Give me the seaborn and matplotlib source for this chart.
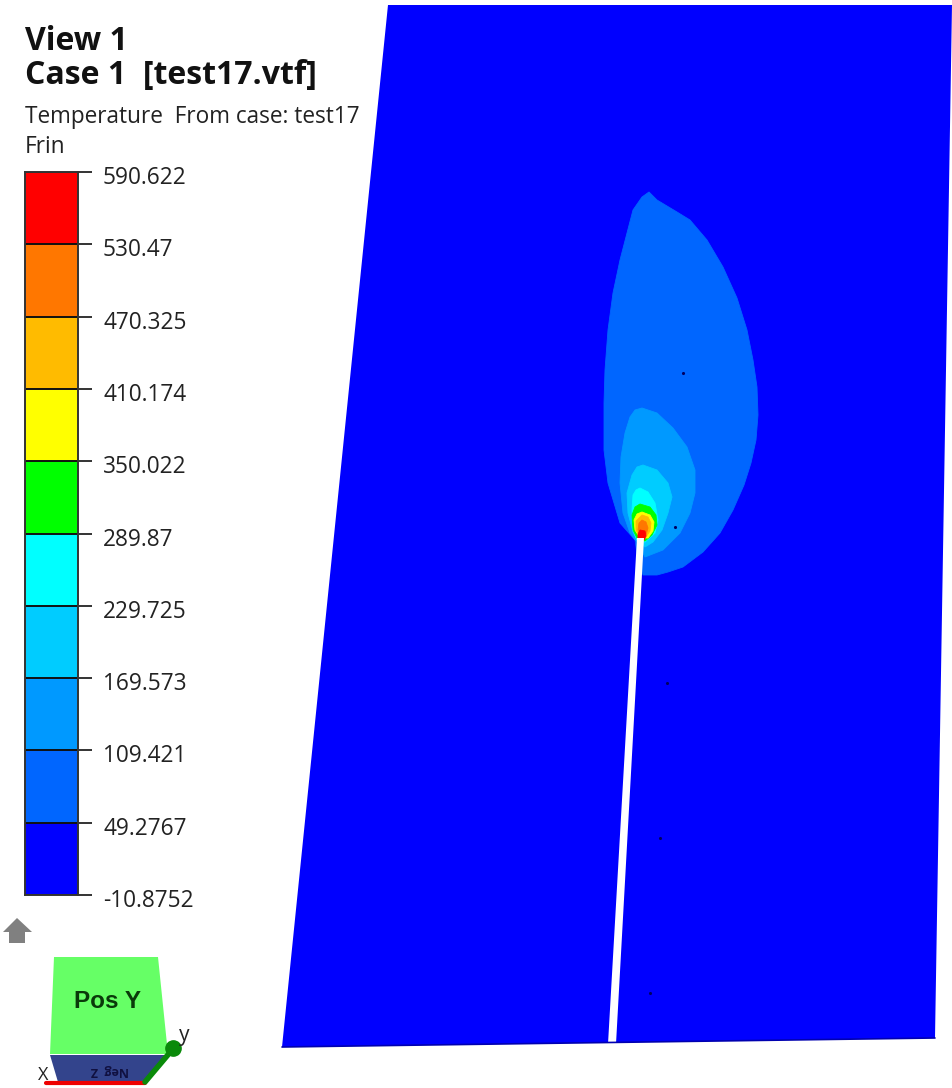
import matplotlib
matplotlib.use("Agg")
import matplotlib.pyplot as plt
from matplotlib.colors import ListedColormap
from matplotlib.transforms import ScaledTranslation
import numpy as np
import seaborn as sns

# ---- data ----
tick_labels = ["590.622", "530.47", "470.325", "410.174", "350.022",
               "289.87", "229.725", "169.573", "109.421", "49.2767", "-10.8752"]
band_colors = ["#FF0000", "#FF7700", "#FFBB00", "#FFFF00", "#00FF00",
               "#00FFFF", "#00CCFF", "#0099FF", "#0066FF", "#0000FF"]

plate_x = [388, 952, 935, 282]
plate_y = [5, 5, 1038, 1047]
slit_x = [637, 644, 616, 608]
slit_y = [538, 538, 1044, 1044]

c1_x = [649, 657, 667, 677, 690, 707, 723, 737, 747, 753, 757, 758, 756, 751, 744, 733, 720, 703, 683, 668, 657, 643, 638,
        635, 620, 608, 604, 604, 605, 608, 613, 620, 627, 633, 642]
c1_y = [192, 200, 206, 212, 220, 240, 267, 298, 330, 360, 387, 415, 440, 463, 485, 510, 533, 552, 567, 572, 575, 575, 560,
        540, 523, 483, 450, 403, 370, 330, 293, 260, 233, 210, 197]
c2_x = [642, 657, 673, 687, 695, 695, 690, 680, 663, 645, 637, 630, 623, 620, 621, 625, 630, 635]
c2_y = [408, 413, 428, 447, 470, 493, 513, 533, 550, 557, 542, 533, 513, 483, 457, 433, 417, 410]
c3_x = [643, 657, 668, 672, 668, 662, 653, 645, 637, 633, 628, 627, 632, 637]
c3_y = [465, 470, 483, 497, 513, 530, 542, 547, 540, 532, 513, 493, 475, 467]
c4_x = [640, 648, 655, 658, 655, 645, 637, 633, 632, 633, 636]
c4_y = [488, 492, 503, 520, 533, 542, 540, 530, 510, 495, 490]
c5_x = [640, 650, 656, 657, 652, 645, 638, 633, 632, 635]
c5_y = [504, 507, 515, 525, 535, 541, 540, 530, 515, 507]
c6_x = [642, 650, 654, 653, 648, 640, 635, 634, 637]
c6_y = [512, 515, 522, 531, 538, 538, 530, 520, 514]
c7_x = [642, 648, 651, 650, 646, 640, 636, 636]
c7_y = [515, 517, 523, 531, 537, 537, 530, 521]
c8_x = [642, 646, 648, 646, 641, 638, 639]
c8_y = [520, 522, 528, 535, 536, 530, 523]
c9_x = [640, 645, 646, 644, 638, 638]
c9_y = [530, 531, 536, 540, 540, 534]

contours = [(c1_x, c1_y, band_colors[8]), (c2_x, c2_y, band_colors[7]),
            (c3_x, c3_y, band_colors[6]), (c4_x, c4_y, band_colors[5]),
            (c5_x, c5_y, band_colors[4]), (c6_x, c6_y, band_colors[3]),
            (c7_x, c7_y, band_colors[2]), (c8_x, c8_y, band_colors[1]),
            (c9_x, c9_y, band_colors[0])]

speck_x = [683, 675, 667, 660, 650]
speck_y = [373, 527, 683, 838, 993]

W, H = 953, 1088
INK = "#222222"
sns.set_theme(style="white")
plt.rcParams["font.family"] = ["Open Sans", "DejaVu Sans"]
fig = plt.figure(figsize=(W / 100, H / 100), dpi=100)
ax = fig.add_axes([0, 0, 1, 1])
ax.set_xlim(0, W)
ax.set_ylim(H, 0)
ax.axis("off")

# plate and contour bands
ax.fill(plate_x, plate_y, color="#0000FF", lw=0)
ax.plot(plate_x[2:], plate_y[2:], color="#0000B0", lw=1.2)
for cx, cy, col in contours:
    ax.fill(cx, cy, color=col, lw=0.6, joinstyle="round")
ax.fill(slit_x, slit_y, color="white", lw=0)
sns.scatterplot(x=speck_x, y=speck_y, ax=ax, s=5, color="#000060", linewidth=0)

# texts
ax.text(25, 50, "View 1", fontsize=23, fontweight="bold", va="baseline", color="#111111")
ax.text(25, 84, "Case 1  [test17.vtf]", fontsize=23, fontweight="bold", va="baseline", color="#111111")
ax.text(25, 123, "Temperature  From case: test17", fontsize=16.3, va="baseline", color=INK)
ax.text(25, 153, "Frin", fontsize=16.3, va="baseline", color=INK)

# legend bar as a heatmap
bar = fig.add_axes([25 / W, 1 - 895 / H, 53 / W, (895 - 172) / H])
vals = np.arange(len(band_colors)).reshape(-1, 1)
sns.heatmap(vals, cmap=ListedColormap(band_colors), cbar=False, ax=bar,
            xticklabels=False, yticklabels=False, linewidths=0)
bar.hlines(np.arange(len(tick_labels)), 0, 1, color="#111111", lw=1.4)
bar.set_yticks(np.arange(len(tick_labels)))
bar.set_yticklabels(tick_labels, fontsize=16.3, color=INK)
bar.yaxis.tick_right()
bar.tick_params(axis="y", length=10, width=1.2, color="#111111", pad=8, right=True, left=False)
nudge = ScaledTranslation(0, -3 / 100, fig.dpi_scale_trans)
for lbl in bar.get_yticklabels():
    lbl.set_transform(lbl.get_transform() + nudge)
for s in bar.spines.values():
    s.set_visible(True)
    s.set_color("#333333")
    s.set_linewidth(1.4)

# home icon
ax.fill([17, 32, 25, 25, 9, 9, 3], [918, 932, 932, 943, 943, 932, 932], color="#808080", lw=0)

# orientation cube
ax.fill([54, 158, 168, 50], [957, 957, 1054, 1054], color="#66FF66", lw=0)
ax.fill([50, 167, 145, 58], [1055, 1055, 1082, 1082], color="#33448C", lw=0)
ax.plot([46, 145], [1083, 1083], color="#EE0000", lw=3, solid_capstyle="round")
ax.plot([145, 172], [1082, 1050], color="#0A8A0A", lw=4)
ax.plot([173], [1048], "o", ms=11, color="#0A8A0A")
ax.text(108, 1001, "Pos Y", fontsize=17.5, fontweight="bold", ha="center", va="center",
        color="#0A3A0A", family="Liberation Sans")
ax.text(110, 1070, "Neg  Z", fontsize=9, fontweight="bold", ha="center", va="center",
        rotation=180, color="#101040")
ax.text(43, 1075, "X", fontsize=13, ha="center", va="center", color=INK)
ax.text(184, 1036, "y", fontsize=15, ha="center", va="center", color=INK)

fig.savefig("out.png", dpi=100)
